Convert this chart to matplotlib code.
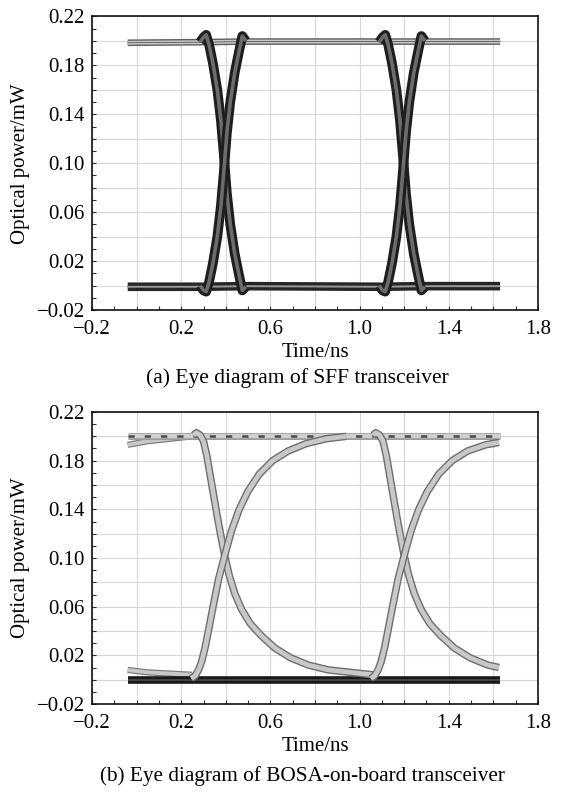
import matplotlib
matplotlib.use("Agg")
import matplotlib.pyplot as plt
import matplotlib.patheffects as pe
from matplotlib.ticker import MultipleLocator, FuncFormatter

plt.rcParams['font.family'] = ['Liberation Serif', 'DejaVu Serif']

# ---------------- data: (a) SFF transceiver ----------------
a_high_t = [-0.04, 0.30, 0.48, 1.10, 1.28, 1.63]
a_high_y = [0.1985, 0.1990, 0.1995, 0.1995, 0.1995, 0.1995]
a_low_t = [-0.04, 0.30, 0.48, 1.10, 1.28, 1.63]
a_low_y = [-0.0010, -0.0010, -0.0005, -0.0010, -0.0005, -0.0005]

a_fall1_t = [0.285, 0.300, 0.312, 0.325, 0.342, 0.362, 0.378, 0.392, 0.405, 0.420, 0.440, 0.460, 0.474, 0.490]
a_fall1_y = [0.199, 0.203, 0.205, 0.197, 0.182, 0.160, 0.135, 0.105, 0.075, 0.050, 0.026, 0.008, -0.004, -0.001]
a_rise1_t = [0.285, 0.300, 0.312, 0.325, 0.342, 0.362, 0.378, 0.392, 0.405, 0.420, 0.440, 0.460, 0.474, 0.490]
a_rise1_y = [0.000, -0.004, -0.005, 0.003, 0.018, 0.040, 0.065, 0.095, 0.125, 0.150, 0.174, 0.192, 0.204, 0.200]
a_fall2_t = [1.088, 1.103, 1.115, 1.128, 1.145, 1.165, 1.181, 1.195, 1.208, 1.223, 1.243, 1.263, 1.277, 1.293]
a_fall2_y = [0.199, 0.203, 0.205, 0.197, 0.182, 0.160, 0.135, 0.105, 0.075, 0.050, 0.026, 0.008, -0.004, -0.001]
a_rise2_t = [1.088, 1.103, 1.115, 1.128, 1.145, 1.165, 1.181, 1.195, 1.208, 1.223, 1.243, 1.263, 1.277, 1.293]
a_rise2_y = [0.000, -0.004, -0.005, 0.003, 0.018, 0.040, 0.065, 0.095, 0.125, 0.150, 0.174, 0.192, 0.204, 0.200]

# ---------------- data: (b) BOSA-on-board transceiver ----------------
b_high_t = [-0.04, 1.63]
b_high_y = [0.2005, 0.2005]
b_low_t = [-0.04, 1.63]
b_low_y = [0.0000, 0.0000]
b_hightail_t = [-0.04, 0.05, 0.15, 0.25]
b_hightail_y = [0.193, 0.196, 0.198, 0.200]
b_lowtail_t = [-0.04, 0.05, 0.15, 0.25]
b_lowtail_y = [0.008, 0.006, 0.005, 0.004]

b_fall1_t = [0.255, 0.268, 0.285, 0.300, 0.315, 0.330, 0.345, 0.362, 0.380, 0.395, 0.415, 0.440, 0.470,
             0.510, 0.560, 0.620, 0.690, 0.770, 0.860, 0.960, 1.060]
b_fall1_y = [0.201, 0.203, 0.201, 0.196, 0.184, 0.168, 0.152, 0.134, 0.116, 0.102, 0.086, 0.071, 0.058,
             0.046, 0.036, 0.026, 0.018, 0.012, 0.008, 0.006, 0.004]
b_rise1_t = [0.245, 0.262, 0.278, 0.292, 0.308, 0.325, 0.345, 0.368, 0.395, 0.425, 0.460, 0.500, 0.550,
             0.610, 0.680, 0.760, 0.850, 0.940]
b_rise1_y = [0.001, 0.003, 0.008, 0.015, 0.027, 0.043, 0.062, 0.083, 0.102, 0.122, 0.140, 0.155, 0.169,
             0.180, 0.188, 0.194, 0.198, 0.200]
b_fall2_t = [1.060, 1.073, 1.090, 1.105, 1.120, 1.135, 1.150, 1.167, 1.185, 1.200, 1.220, 1.245, 1.275,
             1.315, 1.365, 1.425, 1.495, 1.575, 1.625]
b_fall2_y = [0.201, 0.203, 0.201, 0.196, 0.184, 0.168, 0.152, 0.134, 0.116, 0.102, 0.086, 0.071, 0.058,
             0.046, 0.036, 0.026, 0.018, 0.012, 0.010]
b_rise2_t = [1.050, 1.067, 1.083, 1.097, 1.113, 1.130, 1.150, 1.173, 1.200, 1.230, 1.265, 1.305, 1.355,
             1.415, 1.485, 1.565, 1.625]
b_rise2_y = [0.001, 0.003, 0.008, 0.015, 0.027, 0.043, 0.062, 0.083, 0.102, 0.122, 0.140, 0.155, 0.169,
             0.180, 0.188, 0.193, 0.195]

x_label = "Time/ns"
y_label = "Optical power/mW"
caption_a = "(a) Eye diagram of SFF transceiver"
caption_b = "(b) Eye diagram of BOSA-on-board transceiver"

FS = 15

fig = plt.figure(figsize=(5.69, 8.0), dpi=100)
fig.patch.set_facecolor('white')
ax1 = fig.add_axes([0.1617, 0.6125, 0.7838, 0.3669])
ax2 = fig.add_axes([0.1617, 0.120, 0.7838, 0.365])


def fx(v, pos):
    k = int(round((v + 0.2) / 0.2))
    return ('%.1f' % v).replace('-', '\u2212') if k % 2 == 0 else ''


def fy(v, pos):
    k = int(round((v + 0.02) / 0.02))
    return ('%.2f' % v).replace('-', '\u2212') if k % 2 == 0 else ''


def style(ax):
    ax.set_xlim(-0.2, 1.8)
    ax.set_ylim(-0.02, 0.22)
    ax.xaxis.set_major_locator(MultipleLocator(0.2))
    ax.xaxis.set_minor_locator(MultipleLocator(0.1))
    ax.yaxis.set_major_locator(MultipleLocator(0.02))
    ax.yaxis.set_minor_locator(MultipleLocator(0.01))
    ax.xaxis.set_major_formatter(FuncFormatter(fx))
    ax.yaxis.set_major_formatter(FuncFormatter(fy))
    ax.grid(True, which='major', color='#d6d6d6', lw=0.8)
    ax.set_axisbelow(True)
    ax.tick_params(which='both', direction='in', length=3, width=0.8, color='#333333',
                   top=False, right=False, labelsize=FS)
    ax.tick_params(axis='x', which='major', pad=7)
    ax.tick_params(axis='y', which='major', pad=5)
    for s in ax.spines.values():
        s.set_linewidth(1.2)
        s.set_color('#111111')
    ax.set_xlabel(x_label, fontsize=FS, labelpad=3)
    ax.set_ylabel(y_label, fontsize=FS, labelpad=5)


def band(ax, t, y, w_out, c_out, w_in, c_in, z=3, **kw):
    ax.plot(t, y, color=c_in, lw=w_in, solid_capstyle='butt', solid_joinstyle='round', zorder=z,
            path_effects=[pe.Stroke(linewidth=w_out, foreground=c_out), pe.Normal()], **kw)


style(ax1)
style(ax2)

# ---- (a) ----
band(ax1, a_high_t, a_high_y, 4.8, '#5e5e5e', 2.8, '#c8c8c8', z=3)
ax1.plot(a_high_t, a_high_y, color='#555555', lw=0.6, zorder=3.2)
band(ax1, a_low_t, a_low_y, 6.2, '#262626', 1.4, '#9a9a9a', z=3)
for t, y in [(a_fall1_t, a_fall1_y), (a_rise1_t, a_rise1_y), (a_fall2_t, a_fall2_y), (a_rise2_t, a_rise2_y)]:
    band(ax1, t, y, 7.0, '#1e1e1e', 2.6, '#6c6c6c', z=4)

# ---- (b) ----
band(ax2, b_hightail_t, b_hightail_y, 4.5, '#7a7a7a', 2.8, '#c8c8c8', z=3)
band(ax2, b_lowtail_t, b_lowtail_y, 4.5, '#7a7a7a', 2.8, '#c8c8c8', z=3)
band(ax2, b_high_t, b_high_y, 5.0, '#9a9a9a', 3.2, '#d0d0d0', z=3)
ax2.plot(b_high_t, b_high_y, color='#4a4a4a', lw=1.8, ls=(0, (2.5, 4)), zorder=3.5)
band(ax2, b_low_t, b_low_y, 5.5, '#1a1a1a', 1.2, '#4a4a4a', z=3)
for t, y in [(b_fall1_t, b_fall1_y), (b_rise1_t, b_rise1_y), (b_fall2_t, b_fall2_y), (b_rise2_t, b_rise2_y)]:
    band(ax2, t, y, 5.4, '#6e6e6e', 3.4, '#c8c8c8', z=4)

fig.text(0.522, 1 - 378 / 800, caption_a, ha='center', va='center', fontsize=15.5)
fig.text(0.532, 1 - 776 / 800, caption_b, ha='center', va='center', fontsize=15.3)

fig.savefig("out.png", dpi=100, facecolor='white')
